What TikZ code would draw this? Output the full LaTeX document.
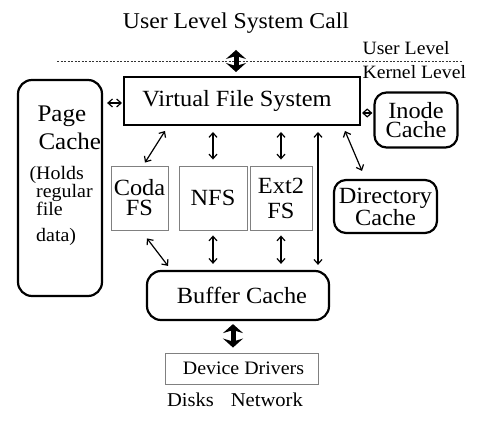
\documentclass[tikz,border=0pt]{standalone}
\usepackage{fontspec}
\setmainfont{Liberation Serif}[FakeStretch=1.05]
\usetikzlibrary{arrows.meta,calc}
\begin{document}
\begin{tikzpicture}[x=1pt,y=1pt,
  font=\fontsize{23.2}{20}\selectfont,
  boldbox/.style={draw, line width=2.2pt, rounded corners=13pt, inner sep=0pt, align=center},
  fsbox/.style={draw=black!50, line width=0.9pt, inner sep=0pt, align=center},
  small/.style={font=\fontsize{18.8}{19}\selectfont},
  note/.style={anchor=base west, inner sep=0pt, font=\fontsize{19}{14.5}\selectfont},
  link/.style={{Straight Barb[length=4.5pt,width=8pt]}-{Straight Barb[length=4.5pt,width=8pt]}, line width=1.2pt},
  fatlink/.style={{Stealth[length=9pt,width=20pt,inset=3pt]}-{Stealth[length=9pt,width=20pt,inset=3pt]}, line width=5pt},
  ]
\useasboundingbox (0,0) rectangle (483,-427);

% user / kernel boundary
\node[font=\fontsize{22.6}{20}\selectfont] (title) at (236,-23) {User Level System Call};
\coordinate (dl) at (57,-61);
\coordinate (dr) at (462,-61);
\draw[dash pattern=on 2pt off 1.5pt, line width=0.6pt, black!80] (dl) -- (dr);
\node[small, anchor=west] (ulev) at (359,-48) {User Level};
\node[small, anchor=west] (klev) at (359,-72) {Kernel Level};

% virtual file system layer
\node[draw, line width=2pt, minimum width=236, minimum height=48, inner sep=0pt] (vfs) at (242,-101) {\hspace*{-10pt}Virtual File System};

% caches
\node[boldbox, minimum width=84, minimum height=216, rounded corners=14pt] (page) at (60,-188) {};
\node[anchor=base west, font=\fontsize{23.8}{20}\selectfont] (pg1) at (34,-122) {Page};
\node[anchor=base west, font=\fontsize{23.8}{20}\selectfont] (pg2) at (35,-150) {Cache};
\node[note, align=left] (pg3) at (36,-216) {\llap{(}Holds\\regular\\file};
\node[note] (pg6) at (36,-242) {data)};

\node[boldbox, minimum width=83, minimum height=55, rounded corners=12pt,
      font=\fontsize{23.2}{19}\selectfont] (inode) at (416,-120) {Inode\\Cache};
\node[boldbox, minimum width=103, minimum height=53, rounded corners=12pt,
      font=\fontsize{23.2}{17.5}\selectfont] (dir) at (385.5,-206.5) {Directory\\Cache};

% concrete file systems
\node[fsbox, minimum width=57, minimum height=64] (coda) at (139.5,-198) {Coda\\FS};
\node[fsbox, minimum width=68, minimum height=64] (nfs) at (213,-198) {NFS};
\node[fsbox, minimum width=62, minimum height=64, font=\fontsize{23.2}{25}\selectfont] (ext2) at (281,-198) {Ext2\\FS};

% buffer cache and drivers
\node[boldbox, minimum width=182, minimum height=49, rounded corners=14pt] (buf) at (238,-295.5) {\hspace*{8pt}Buffer Cache};
\node[fsbox, minimum width=153, minimum height=31, font=\fontsize{19}{19}\selectfont] (dev) at (241.5,-368.5) {\hspace*{4pt}Device Drivers};
\node[font=\fontsize{19.6}{19}\selectfont] (net) at (235,-400) {Disks\hspace{0.6em} Network};

% system call entry
\coordinate (sc) at (236,-50);
\draw[fatlink, shorten >=4pt] (sc) -- (sc |- vfs.north);
\draw[fatlink, shorten <=3pt, shorten >=5pt] ([xshift=-5pt]buf.south) -- ([xshift=-8.5pt]dev.north);

% links around the VFS
\draw[link, shorten <=4pt, shorten >=1pt] ([yshift=85pt]page.east) -- ([yshift=-2pt]vfs.west);
\draw[link, shorten <=1pt, shorten >=1pt] ([yshift=-12pt]vfs.east) -- ([yshift=7pt]inode.west);
\draw[link] ([xshift=-77pt,yshift=-5pt]vfs.south) -- ([xshift=5.5pt,yshift=3pt]coda.north);
\draw[link, shorten <=6pt, shorten >=6pt] (nfs.north |- vfs.south) -- (nfs.north);
\draw[link, shorten <=6pt, shorten >=6pt] (ext2.north |- vfs.south) -- (ext2.north);
\draw[link, shorten <=6pt, shorten >=5pt] ([xshift=76pt]vfs.south) -- ([xshift=80pt]buf.north);
\draw[link] ([xshift=103pt,yshift=-5pt]vfs.south) -- ([xshift=-23.5pt,yshift=8pt]dir.north);

% links down to the buffer cache
\draw[link] ([xshift=7.5pt,yshift=-8pt]coda.south) -- ([xshift=-70pt,yshift=4pt]buf.north);
\draw[link, shorten <=5pt, shorten >=6pt] (nfs.south) -- (nfs.south |- buf.north);
\draw[link, shorten <=5pt, shorten >=6pt] (ext2.south) -- (ext2.south |- buf.north);
\end{tikzpicture}
\end{document}
